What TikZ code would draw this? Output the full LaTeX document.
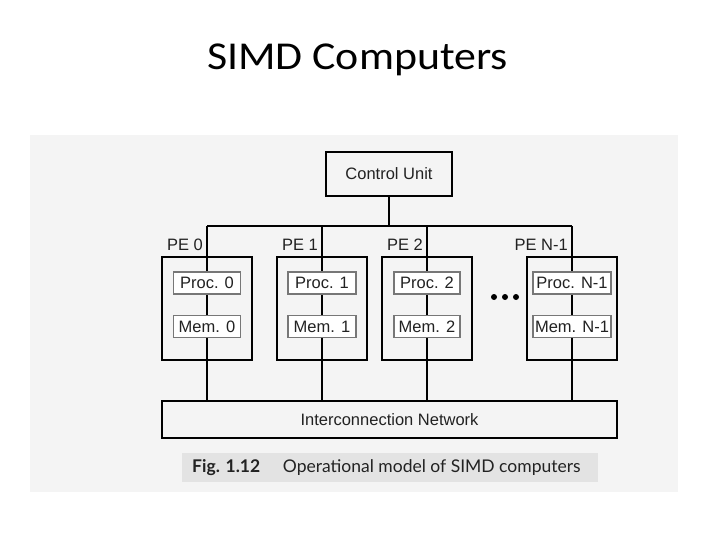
\documentclass[tikz,border=0pt]{standalone}
\usepackage{fontspec}
\setmainfont{Liberation Sans}
\newfontfamily\titlefont{Carlito}
\newfontfamily\capfont{Lato}
\usetikzlibrary{positioning}
\definecolor{bggray}{HTML}{F4F4F4}
\definecolor{capgray}{HTML}{E3E3E3}
\definecolor{inkgray}{HTML}{222222}
\definecolor{boxgray}{HTML}{777777}

\begin{document}
\begin{tikzpicture}[x=1pt,y=-1pt,
  txt/.style={text=inkgray,font=\fontsize{16.5}{18}\selectfont,inner sep=0pt},
  bigbox/.style={draw=black,line width=1.4pt,inner sep=0pt,txt},
  pebox/.style={draw=black,line width=1.4pt,minimum width=90pt,minimum height=103pt,inner sep=0pt},
  unitbox/.style={draw=boxgray,line width=1.4pt,fill=white,minimum height=22pt,inner sep=0pt,txt},
  wire/.style={draw=black,line width=1.4pt}]
\useasboundingbox (0,0) rectangle (720,540);
\fill[white] (0,0) rectangle (720,540);
\fill[bggray] (30,135) rectangle (678,492);
\node[anchor=base,xscale=1.11] (title) at (357.5,70) {\titlefont\fontsize{39.5}{42}\selectfont SIMD Computers};
\node[bigbox,minimum width=126pt,minimum height=44pt] (cu) at (389,174) {Control Unit};
\node[bigbox,minimum width=455pt,minimum height=37pt] (net) at (389.5,419.5) {Interconnection Network};
\coordinate (busL) at (207,226);
\coordinate (busR) at (572,226);
\draw[wire] (busL) -- (busR);
\draw[wire] (cu.south) -- (cu.south |- busL);
\foreach \x/\id/\lab/\w in {207/0/0/67,322/1/1/68,427/2/2/66,572/3/N-1/78}{
  \coordinate (tap\id) at (\x,226);
  \draw[wire] (tap\id) -- (tap\id |- net.north);
  \node[pebox] (pe\id) at (\x,308.5) {};
  \node[txt,anchor=east] (pelab\id) at (\x-4,245) {PE \lab};
  \node[unitbox,minimum width=\w pt] (proc\id) at (\x,283) {Proc. \lab};
  \node[unitbox,minimum width=\w pt] (mem\id) at (\x,326.5) {Mem. \lab};
}
\foreach \d in {494,505,516} \fill[black] (\d,297) circle (3pt);
\node[fill=capgray,minimum width=416pt,minimum height=29pt,inner sep=0pt] (capbox) at (390,467.5) {};
\node[anchor=west,inner sep=0pt,text=inkgray,font=\capfont\fontsize{17.5}{19}\selectfont] (caption) at (192,467.5) {\textbf{Fig. 1.12}\hspace{1.3em}Operational model of SIMD computers};
\end{tikzpicture}
\end{document}
